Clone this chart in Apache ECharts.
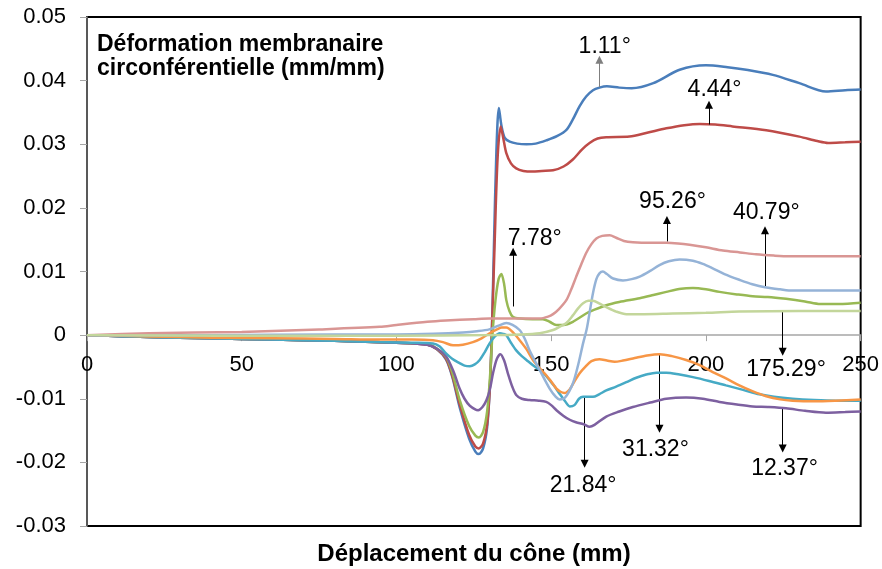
<!DOCTYPE html>
<html><head><meta charset="utf-8">
<script src="https://cdn.jsdelivr.net/npm/echarts@6/dist/echarts.min.js"></script>
<style>html,body{margin:0;padding:0;background:#fff}#c{width:882px;height:569px}</style>
</head><body><div id="c"></div>
<script>
const FONT = '"Liberation Sans", Arial, sans-serif';
const xTicks = [0, 50, 100, 150, 200, 250];
const seriesNames = ['1.11°','4.44°','7.78°','12.37°','21.84°','31.32°','40.79°','95.26°','175.29°'];

const s111 = [[0,0],[20,-0.0003],[40,-0.0005],[60,-0.0007],[80,-0.0009],[100,-0.0012],[110,-0.0015],[113,-0.0022],[116,-0.0038],[118,-0.0065],[120.5,-0.0115],[123.5,-0.0163],[125.5,-0.0183],[126.6,-0.0187],[128,-0.0178],[129.3,-0.0145],[130.2,-0.008],[130.8,0.000],[131.5,0.014],[132.3,0.029],[133.1,0.0357],[133.9,0.033],[135,0.031],[136.6,0.0304],[139,0.0301],[142,0.0300],[145,0.0301],[148.4,0.0306],[152,0.0313],[155,0.0323],[157,0.0339],[159.2,0.036],[161.3,0.0375],[163.5,0.0385],[165.6,0.0389],[168,0.0391],[172,0.0389],[176,0.0388],[183,0.0396],[191.5,0.0417],[200,0.0424],[207,0.0421],[213,0.0417],[221.6,0.0409],[230.2,0.0396],[238.8,0.0383],[245,0.0385],[250,0.0386]];
const s444 = [[0,0],[20,-0.0003],[40,-0.0005],[60,-0.0007],[80,-0.0009],[100,-0.0012],[110,-0.0015],[113,-0.0022],[116,-0.0037],[118,-0.0063],[120.5,-0.011],[123.5,-0.0157],[125.5,-0.0175],[126.6,-0.0178],[128,-0.017],[129.3,-0.014],[130.2,-0.008],[130.8,0.000],[131.7,0.014],[132.7,0.028],[133.7,0.0328],[134.5,0.031],[135.5,0.0286],[137,0.027],[138.7,0.0262],[141,0.0258],[144,0.0257],[147,0.0258],[150.6,0.0259],[154,0.0265],[157,0.0276],[160,0.0292],[162.4,0.0302],[165,0.0309],[167.8,0.0311],[175.3,0.0312],[181,0.0318],[187.2,0.0325],[193,0.0330],[198,0.0332],[203,0.0331],[208.6,0.0328],[219.5,0.0322],[230.2,0.0312],[236,0.0305],[239.5,0.0302],[245,0.0303],[250,0.0304]];
const s778 = [[0,0],[20,-0.0003],[40,-0.0005],[60,-0.0007],[80,-0.0009],[100,-0.0012],[110,-0.0014],[113,-0.0021],[116,-0.0034],[118,-0.0058],[120.5,-0.0103],[123.5,-0.0143],[125.5,-0.0158],[126.6,-0.0161],[128,-0.0152],[129.3,-0.0120],[130.3,-0.006],[131,0.000],[132,0.0055],[133,0.0088],[133.9,0.0096],[134.8,0.0080],[135.5,0.0055],[136.5,0.0038],[137.6,0.0029],[140,0.0026],[144,0.0025],[147.3,0.0025],[149.5,0.0021],[151.6,0.0016],[154,0.0016],[157,0.0021],[161.3,0.0034],[164,0.0040],[167.8,0.0047],[172,0.0052],[178.6,0.0058],[183,0.0063],[187.2,0.0068],[192,0.0073],[195.8,0.0074],[200,0.0072],[204.4,0.0068],[210,0.0064],[215.1,0.0061],[220,0.0060],[225.9,0.0057],[232,0.0053],[237,0.0049],[243,0.0049],[250,0.0051]];
const s1237 = [[0,0],[20,-0.0003],[40,-0.0005],[60,-0.0007],[80,-0.0009],[100,-0.0012],[110,-0.0015],[113,-0.0021],[116.1,-0.0034],[118.5,-0.0058],[120.4,-0.0084],[122,-0.0100],[123.7,-0.0111],[126.4,-0.0118],[127.8,-0.0113],[129.1,-0.0102],[130.2,-0.0085],[131.2,-0.006],[132.4,-0.0038],[133.6,-0.003],[134.8,-0.0040],[136,-0.006],[137.5,-0.0082],[138.7,-0.0094],[140.5,-0.0100],[143,-0.0102],[146,-0.0103],[148.4,-0.0105],[150,-0.0110],[151.7,-0.0118],[154,-0.0127],[156,-0.0133],[158,-0.0137],[160.5,-0.0140],[162.4,-0.0144],[164,-0.0141],[167.8,-0.0128],[172,-0.0120],[176.4,-0.0113],[182,-0.0106],[187.2,-0.0100],[193.6,-0.0098],[199,-0.0100],[204.4,-0.0105],[210,-0.0109],[215.1,-0.0112],[220,-0.0113],[225.9,-0.0115],[232,-0.0119],[238.8,-0.0122],[245,-0.0121],[250,-0.0120]];
const s2184 = [[0,0],[20,-0.0003],[40,-0.0005],[60,-0.0007],[80,-0.0009],[94.6,-0.0011],[105,-0.0012],[111.8,-0.0013],[114,-0.0018],[116.1,-0.0029],[118,-0.0037],[120.4,-0.0044],[122,-0.0048],[123.7,-0.0049],[125.3,-0.0046],[126.9,-0.0039],[128.5,-0.0027],[130.1,-0.0013],[131.8,-0.0002],[133.4,0.0003],[134.5,0.0002],[135.5,0.0],[137,-0.0012],[138.7,-0.0024],[140.5,-0.0033],[142,-0.0039],[144,-0.0047],[146.3,-0.0055],[148,-0.0062],[149.5,-0.0071],[151,-0.0080],[152.7,-0.0092],[154.5,-0.0104],[156,-0.0112],[157.5,-0.0110],[159,-0.0100],[160.3,-0.0097],[162,-0.0097],[163.5,-0.0097],[165.5,-0.0093],[167.8,-0.0087],[171,-0.0081],[174.3,-0.0074],[177.5,-0.0067],[180.7,-0.0062],[184,-0.0059],[187.2,-0.0059],[191.5,-0.0062],[195.8,-0.0066],[201,-0.0072],[206.5,-0.0079],[212,-0.0086],[217.3,-0.0093],[222,-0.0097],[228,-0.0100],[235,-0.0102],[242,-0.0103],[250,-0.0103]];
const s3132 = [[0,0],[20,-0.0002],[40,-0.0004],[60,-0.0005],[80,-0.0006],[94.6,-0.0007],[105,-0.0007],[111.8,-0.0008],[115,-0.0011],[118.3,-0.0016],[121.5,-0.0015],[124.7,-0.0011],[127.5,-0.0005],[130.1,0.0003],[132.5,0.0009],[134,0.0012],[135.5,0.0012],[137.5,0.0005],[139.8,-0.0008],[142,-0.0022],[144.1,-0.0039],[146.3,-0.0052],[148.4,-0.0063],[150,-0.0073],[151.7,-0.0084],[153,-0.0089],[154.3,-0.0091],[156,-0.0085],[157.5,-0.0073],[159.2,-0.0060],[161,-0.0050],[163,-0.0041],[165.6,-0.0038],[168,-0.0040],[170.5,-0.0042],[173.2,-0.0040],[177,-0.0036],[181,-0.0032],[185,-0.0030],[189,-0.0033],[193.6,-0.0039],[198,-0.0047],[202.2,-0.0058],[206.5,-0.0068],[210.8,-0.0079],[215,-0.0088],[219.5,-0.0096],[224,-0.0101],[228,-0.0103],[235,-0.0104],[242,-0.0103],[250,-0.0101]];
const s4079 = [[0,0],[40,0.0000],[80,0.0001],[100,0.0001],[112,0.0002],[121.5,0.0004],[126,0.0006],[130,0.0009],[133,0.0015],[135.5,0.0019],[137.5,0.0016],[139.8,0.0008],[141.5,-0.0006],[143,-0.0024],[146.3,-0.0055],[149.5,-0.0084],[151.5,-0.0097],[152.7,-0.0101],[154.5,-0.0098],[157,-0.0076],[158.8,-0.0045],[160.3,-0.0013],[161.5,0.0010],[162.4,0.0035],[163.5,0.0066],[164.6,0.0088],[165.6,0.0097],[166.7,0.0100],[168,0.0096],[170,0.0089],[173.2,0.0086],[176,0.0088],[178.6,0.0092],[182,0.0101],[185,0.0110],[188,0.0116],[191.5,0.0119],[195.8,0.0117],[199,0.0112],[202.2,0.0105],[206,0.0096],[210.8,0.0087],[215,0.0080],[219.5,0.0075],[224,0.0072],[228,0.0070],[240,0.0070],[250,0.0070]];
const s9526 = [[0,0],[20,0.0003],[50,0.0005],[75,0.0009],[94.6,0.0013],[100,0.0016],[110,0.0021],[116,0.0023],[125,0.0025],[130,0.0026],[140,0.0026],[146.3,0.0026],[149,0.0029],[150.6,0.0033],[152.5,0.0041],[154.9,0.0055],[156.5,0.0072],[158.1,0.0092],[159.7,0.0111],[161.3,0.0129],[163,0.0143],[164.6,0.0152],[166.5,0.0156],[168.9,0.0157],[171,0.0153],[173.5,0.0148],[176.4,0.0146],[182,0.0145],[187.2,0.0145],[191,0.0144],[194.7,0.0142],[200,0.0138],[205.5,0.0133],[211,0.0130],[216.2,0.0127],[222,0.0125],[227,0.0124],[240,0.0124],[250,0.0124]];
const s17529 = [[0,0],[50,-0.0001],[100,-0.0001],[130,0.0000],[140,0.0001],[146.3,0.0003],[150.6,0.0008],[152.7,0.0013],[154.9,0.0019],[157,0.0031],[158.7,0.0042],[160.3,0.0050],[162,0.0054],[163.5,0.0054],[165.5,0.0050],[167.8,0.0044],[171,0.0037],[174.3,0.0033],[180,0.0033],[189.3,0.0034],[200,0.0035],[210.8,0.0037],[230,0.0038],[250,0.0038]];

// annotations: label, arrow x, arrow start y, arrow tip y, label x, label y
const annLabels = ['1.11°','4.44°','95.26°','40.79°','7.78°','175.29°','21.84°','31.32°','12.37°'];
const annArrowX = [165.6, 201, 187.4, 219.1, 137.7, 224.8, 160.8, 185, 224.8];
const annFrom   = [0.0390, 0.0331, 0.0147, 0.0077, 0.0045, 0.0038, -0.0097, -0.0030, -0.0115];
const annTo     = [0.0433, 0.0362, 0.0181, 0.0165, 0.0131, -0.0026, -0.0202, -0.0147, -0.0178];
const annTextX  = [167.3, 202.8, 189.2, 219.5, 144.7, 225.9, 160.3, 183.7, 225.4];
const annTextY  = [0.0454, 0.0386, 0.0210, 0.0192, 0.0152, -0.0055, -0.0236, -0.0180, -0.0210];
const annLineColor = ['#7F7F7F','#000','#000','#000','#000','#000','#000','#000','#000'];

const data = [s111, s444, s778, s1237, s2184, s3132, s4079, s9526, s17529];
const colors = ['#4A7EBB','#BE4B48','#98B954','#7D60A0','#46AAC5','#F79646','#95B3D7','#D99694','#C3D69B'];

const series = data.map((d, i) => ({
  name: seriesNames[i], type: 'line', data: d, showSymbol: false, symbol: 'none',
  smooth: 0.3, lineStyle: { width: 2.5, color: colors[i] }, itemStyle: { color: colors[i] },
  z: 2 + i, animation: false
}));

series.push({
  name: 'ann', type: 'scatter', symbolSize: 0, animation: false, z: 20,
  itemStyle: { color: '#000', opacity: 1 },
  data: annLabels.map((l, i) => ({ value: [annTextX[i], annTextY[i]], name: l })),
  label: { show: true, position: 'inside', formatter: p => p.name, color: '#000',
    textBorderWidth: 0, textBorderColor: 'transparent', opacity: 1,
    fontSize: 23, fontFamily: FONT },
  markLine: {
    silent: true, animation: false, symbol: ['none', 'triangle'], symbolSize: 8, precision: 6,
    lineStyle: { color: '#000', width: 1, type: 'solid' }, label: { show: false },
    data: annLabels.map((l, i) => [
      { coord: [annArrowX[i], annFrom[i]], lineStyle: { color: annLineColor[i] }, itemStyle: { color: '#000' } },
      { coord: [annArrowX[i], annTo[i]], itemStyle: { color: '#000' } }
    ])
  }
});

const chart = echarts.init(document.getElementById('c'), null, { renderer: 'canvas' });
chart.setOption({
  animation: false,
  backgroundColor: '#fff',
  graphic: [
    { type: 'text', left: 97, top: 33, z: 50,
      style: { text: 'Déformation membranaire\ncirconférentielle (mm/mm)', fill: '#000',
        font: 'bold 23px ' + FONT, lineHeight: 24 } },
    { type: 'text', x: 474, y: 554, z: 50,
      style: { text: 'Déplacement du cône (mm)', fill: '#000', font: 'bold 24px ' + FONT,
        textAlign: 'center', textVerticalAlign: 'middle' } }
  ],
  grid: { left: 87, right: 20, top: 17, bottom: 43, show: true, borderColor: '#000', borderWidth: 2, backgroundColor: 'transparent' },
  xAxis: {
    type: 'value', min: 0, max: 250, interval: 50, position: 'bottom',
    axisLine: { onZero: false, lineStyle: { color: '#A6A6A6', width: 1.5 } },
    axisTick: { show: true, inside: false, length: 6, lineStyle: { color: '#A6A6A6' } },
    axisLabel: { color: '#000', fontSize: 22, fontFamily: FONT, margin: 19,
      formatter: v => xTicks.includes(v) ? String(v) : '' },
    splitLine: { show: false }
  },
  yAxis: {
    type: 'value', min: -0.03, max: 0.05, interval: 0.01,
    axisLine: { show: true, onZero: false, lineStyle: { color: '#595959', width: 2 } },
    axisTick: { show: true, length: 7, lineStyle: { color: '#A6A6A6' } },
    axisLabel: { color: '#000', fontSize: 22, fontFamily: FONT, margin: 21,
      formatter: v => String(parseFloat(v.toFixed(2))) },
    splitLine: { show: false }
  },
  series
});
// place the x axis on the y = 0 line
const y0 = chart.convertToPixel({ yAxisIndex: 0 }, 0);
const yBottom = chart.convertToPixel({ yAxisIndex: 0 }, -0.03);
chart.setOption({ xAxis: { offset: y0 - yBottom } });
</script></body></html>
